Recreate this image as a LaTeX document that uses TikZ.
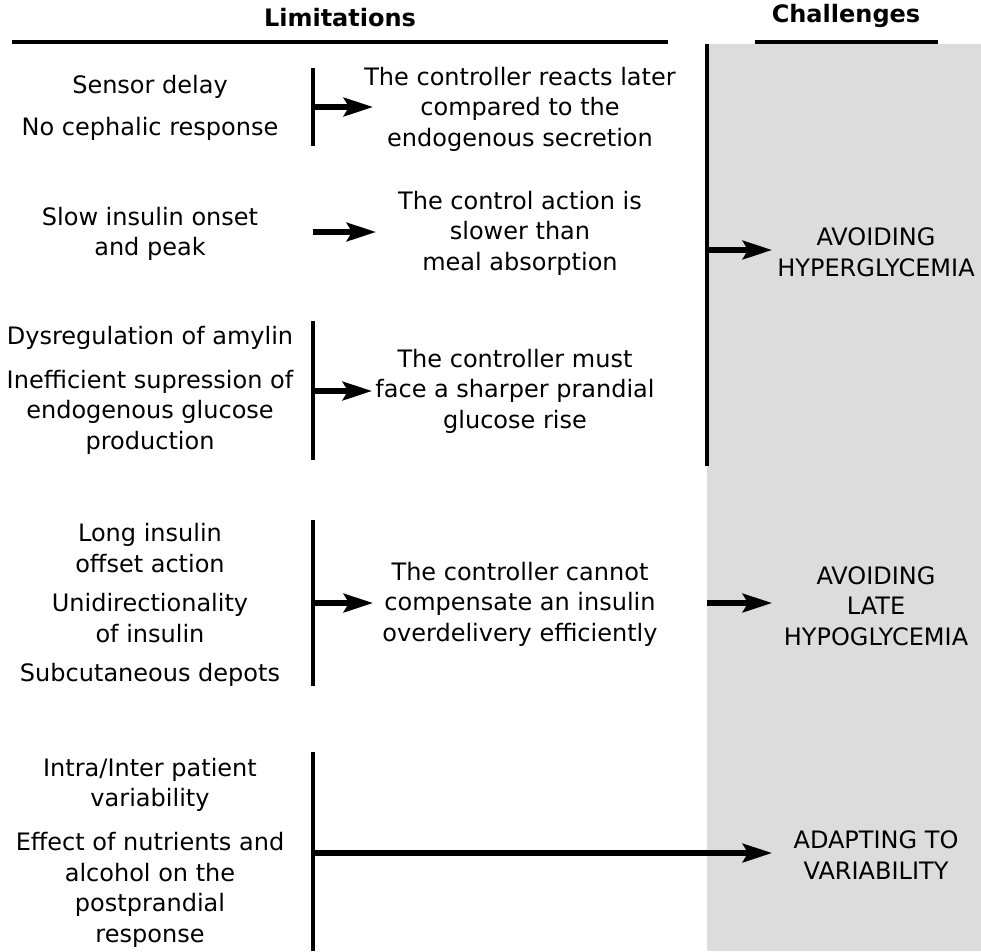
\documentclass[tikz,border=0pt]{standalone}
\usepackage{fontspec}
\setmainfont{DejaVu Sans}
\usetikzlibrary{arrows.meta}
\definecolor{panelgray}{HTML}{DCDCDC}
\tikzset{
	txt/.style = {align = center, font = \fontsize{18}{22.9}\selectfont, inner sep = 0pt, yshift = -1.5pt},
	head/.style = {font = \fontsize{18}{20}\selectfont\bfseries, inner sep = 0pt},
	bar/.style = {line width = 3pt},
	arr/.style = {line width = 3.8pt, -{Stealth[length = 22pt, width = 14pt, inset = 4pt]}}
}

\begin{document}
\begin{tikzpicture}[x = 0.75pt, y = -0.75pt]
		\useasboundingbox (0,0) rectangle (981,951);
		\fill [panelgray] (707,44) rectangle (981,951);
		%
		\node [head] (lim) at (340,18) {Limitations};
		\node [head] (chal) at (846,16) {Challenges};
		\draw [bar] (12,42) -- (668,42);
		\draw [bar] (755,42) -- (938,42);
		%
		\coordinate (r0) at (707,44);
		\coordinate (r1) at (707,466);
		\draw [bar] (r0) -- (r1);
		%
		\node [txt] (sd) at (150,85) {Sensor delay};
		\node [txt] (ncr) at (150,127) {No cephalic response};
		\node [txt] (sio) at (150,232) {Slow insulin onset\\and peak};
		\node [txt] (dys) at (150,336) {Dysregulation of amylin};
		\node [txt] (ine) at (150,410) {Inefficient supression of\\endogenous glucose\\production};
		\node [txt] (lio) at (150,546) {Long insulin\\offset action};
		\node [txt] (uni) at (150,616) {Unidirectionality\\of insulin};
		\node [txt] (sub) at (150,673) {Subcutaneous depots};
		\node [txt] (var) at (150,783) {Intra/Inter patient\\variability};
		\node [txt] (eff) at (150,888) {Effect of nutrients and\\alcohol on the\\postprandial\\response};
		%
		\node [txt] (late) at (520,107) {The controller reacts later\\compared to the\\endogenous secretion};
		\node [txt] (slow) at (520,231) {The control action is\\slower than\\meal absorption};
		\node [txt] (sharp) at (515,389) {The controller must\\face a sharper prandial\\glucose rise};
		\node [txt] (comp) at (520,602) {The controller cannot\\compensate an insulin\\overdelivery efficiently};
		%
		\node [txt] (hyper) at (876,250) {AVOIDING\\HYPERGLYCEMIA};
		\node [txt] (hypo) at (876,604) {AVOIDING\\LATE\\HYPOGLYCEMIA};
		\node [txt] (adapt) at (876,853) {ADAPTING TO\\VARIABILITY};
		%
		\foreach \name/\top/\bot in {a/68/146, c/321/460, d/520/686, e/752/951}{
				\draw [bar] (313,\top) coordinate (\name top) -- (313,\bot) coordinate (\name bot);
			}
		\coordinate (a0) at (313,107);
		\coordinate (a1) at (373,107);
		\coordinate (b0) at (313,232);
		\coordinate (b1) at (376,232);
		\coordinate (c0) at (313,391);
		\coordinate (c1) at (372,391);
		\coordinate (d0) at (313,603);
		\coordinate (d1) at (373,603);
		\coordinate (e0) at (313,853);
		\coordinate (e1) at (772,853);
		\coordinate (h0) at (707,250);
		\coordinate (h1) at (772,250);
		\coordinate (l0) at (707,603);
		\coordinate (l1) at (772,603);
		\foreach \s in {a,b,c,d,e,h,l}{
				\draw [arr] (\s0) -- (\s1);
			}
	\end{tikzpicture}
\end{document}
